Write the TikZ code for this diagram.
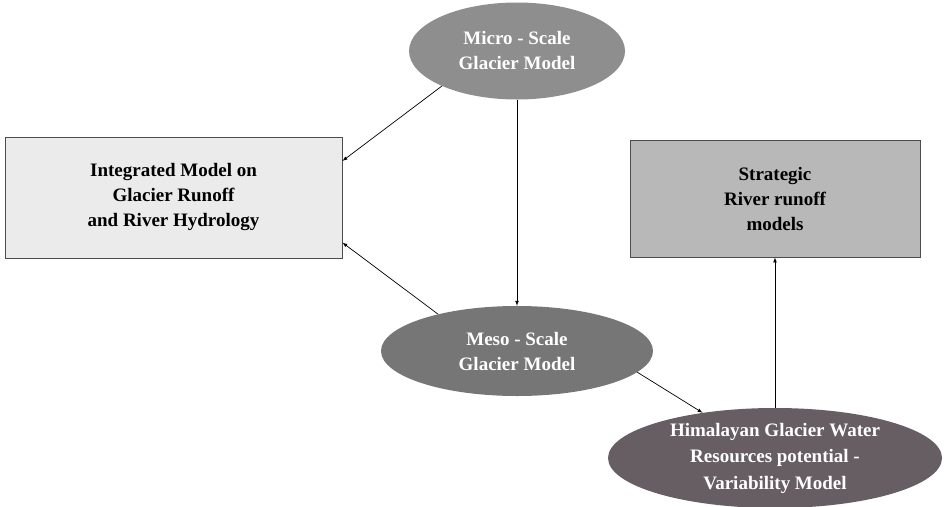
\documentclass[tikz,border=0pt]{standalone}
\usepackage{fontspec}
\setmainfont{Liberation Serif}
\usetikzlibrary{shapes,arrows,positioning,calc}

\definecolor{microgray}{HTML}{8E8E8E}
\definecolor{mesogray}{HTML}{767676}
\definecolor{himagray}{HTML}{675E64}
\definecolor{integgray}{HTML}{EBEBEB}
\definecolor{stratgray}{HTML}{B8B8B8}

\begin{document}
\begin{tikzpicture}[x=1pt, y=-1pt,
  model/.style={ellipse, draw=none, text=white, align=center, inner sep=0pt,
    font=\bfseries\fontsize{19}{25}\selectfont},
  box/.style={rectangle, draw=black!70, line width=0.9pt, align=center, inner sep=0pt,
    font=\bfseries\fontsize{19}{25}\selectfont},
  flow/.style={-latex, line width=0.7pt}]

% Canvas
\useasboundingbox (0,0) rectangle (950,506);

% Glacier models
\node[model, fill=microgray, minimum width=216pt, minimum height=97pt] (micro) at (517,51) {Micro - Scale\\Glacier Model};
\node[model, fill=mesogray, minimum width=272pt, minimum height=90pt] (meso) at (517,351) {Meso - Scale\\Glacier Model};
\node[model, fill=himagray, minimum width=334pt, minimum height=100pt, font=\bfseries\fontsize{19}{26.5}\selectfont] (hima) at (775,458) {Himalayan Glacier Water\\Resources potential -\\Variability Model};

% Runoff models
\node[box, fill=integgray, minimum width=337pt, minimum height=121pt] (integ) at (173.5,197.5) {Integrated Model on\\Glacier Runoff\\and River Hydrology};
\node[box, fill=stratgray, minimum width=290pt, minimum height=117pt] (strat) at (775,198.5) {Strategic\\River runoff\\models};

% Links
\draw[flow] (micro.205) -- ($(integ.north east)!0.2!(integ.south east)$);
\draw[flow] (micro.south) -- (meso.north);
\draw[flow] (meso.155) -- ($(integ.north east)!0.87!(integ.south east)$);
\draw[flow] (meso.-10) -- (hima.148);
\draw[flow] (hima.north) -- (strat.south);

\end{tikzpicture}
\end{document}
